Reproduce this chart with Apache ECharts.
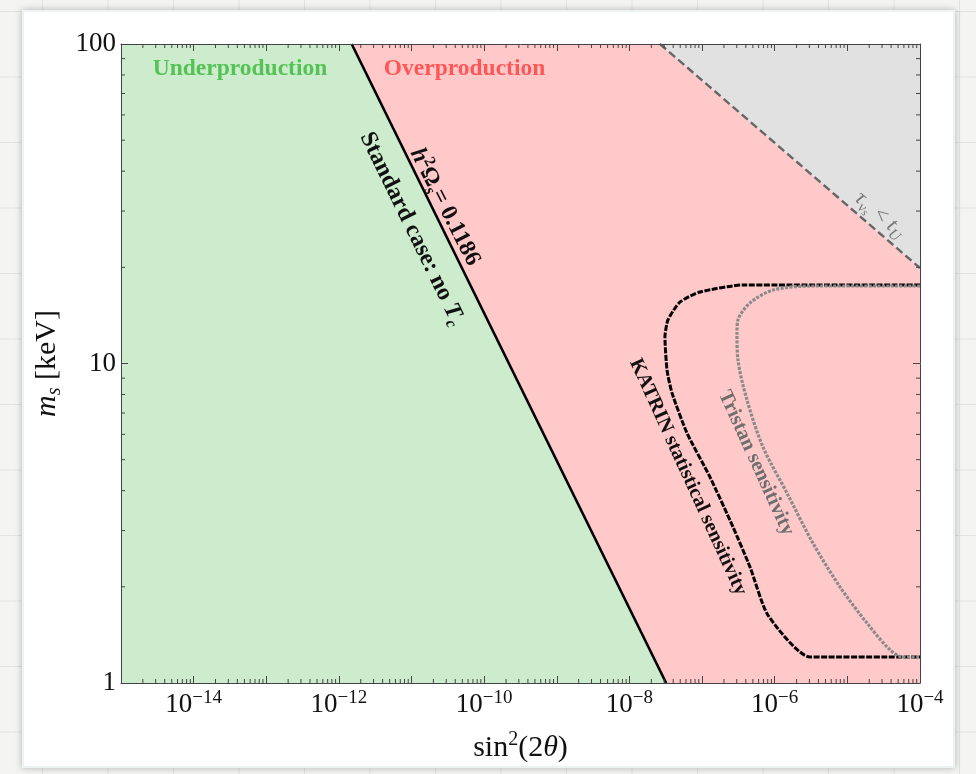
<!DOCTYPE html>
<html><head><meta charset="utf-8">
<script src="https://cdn.jsdelivr.net/npm/echarts@6/dist/echarts.min.js"></script>
<style>
html,body{margin:0;padding:0;width:976px;height:774px;overflow:hidden;}
body{background-color:#f4f4f2;background-image:linear-gradient(to right,#e2e2e0 1px,transparent 1px),linear-gradient(to bottom,#e2e2e0 1px,transparent 1px);background-size:65.5px 65.5px;background-position:42px 11px;}
#card{position:absolute;left:22px;top:10px;width:933px;height:758px;background:#fff;border:2px solid #edf2f2;box-sizing:border-box;box-shadow:0 0 7px rgba(0,0,0,0.28);}
#chart{position:absolute;left:0;top:0;width:976px;height:774px;}
</style></head><body><div id="card"></div><div id="chart"></div>
<script>
// ---- data ----
const xMin = 1e-15, xMax = 1e-4;
const yMin = 1, yMax = 100;
const xLabelExponents = [-14, -12, -10, -8, -6, -4];
const yTickLabels = ['1', '10', '100'];

const standardLine = [[1.5e-12, 100], [3.2e-8, 1]];
const lifetimeLine = [[2.63e-8, 100], [1e-4, 19.9]];

const greenRegion = [[1e-15, 1], [1e-15, 100], [1.5e-12, 100], [3.2e-8, 1]];
const pinkRegion = [[1.5e-12, 100], [2.63e-8, 100], [1e-4, 19.9], [1e-4, 1], [3.2e-8, 1]];
const grayRegion = [[2.63e-8, 100], [1e-4, 100], [1e-4, 19.9]];

const katrin = [
  [1e-4, 17.61], [3.66e-7, 17.61], [9.35e-8, 16.74], [4.97e-8, 15.58], [3.39e-8, 13.69],
  [3.08e-8, 12.1], [3.29e-8, 9.54], [3.85e-8, 8.09], [6.19e-8, 6.06], [1.285e-7, 4.41],
  [2.66e-7, 3.08], [4.56e-7, 2.31], [8.07e-7, 1.63], [3.05e-6, 1.206], [1e-4, 1.206]
];
const tristan = [
  [1e-4, 17.48], [3.36e-6, 17.48], [9.46e-7, 16.98], [4.56e-7, 15.47], [3.12e-7, 13.69],
  [3.02e-7, 12.46], [3.12e-7, 10.25], [4.15e-7, 7.69], [6.88e-7, 5.48], [1.476e-6, 3.93],
  [3.36e-6, 2.74], [7.9e-6, 2.0], [1.86e-5, 1.54], [3.87e-5, 1.27], [5.83e-5, 1.206], [1e-4, 1.206]
];

const annotations = [
  { pos: [4.35e-14, 83.5], text: 'Underproduction', rot: 0, color: '#55c255', size: 23.5, weight: 'bold' },
  { pos: [5.36e-11, 83.5], text: 'Overproduction', rot: 0, color: '#ff5757', size: 23.5, weight: 'bold' },
  { pos: [2.88e-11, 30.9], text: '{ib|h}{supb|2}{b|Ω}{subb|s}{b|= 0.1186}', rot: -63, color: '#111', size: 23.5, weight: 'bold' },
  { pos: [1.014e-11, 26.4], text: '{b|Standard case: no }{ib|T}{subb|c}', rot: -64, color: '#111', size: 24, weight: 'bold' },
  { pos: [6.4e-8, 4.41], text: 'KATRIN statistical sensitivity', rot: -65.5, color: '#111', size: 20.2, weight: 'bold' },
  { pos: [5.52e-7, 4.88], text: 'Tristan sensitivity', rot: -65.5, color: '#6e6e6e', size: 20.6, weight: 'bold' },
  { pos: [2.81e-5, 29.2], text: '{i|τ}{sub|ν}{sub2|s}{n| < }{i|t}{sub|U}', rot: -41, color: '#777', size: 22, weight: 'normal' }
];

const FONT = '"Liberation Serif", "DejaVu Serif", serif';
const FRAME = '#444';

const xMinor = [];
for (let e = -15; e < -4; e++) for (let k = 2; k <= 9; k++) xMinor.push([k * Math.pow(10, e), 1]);
const yMinor = [];
for (let e = 0; e < 2; e++) for (let k = 2; k <= 9; k++) yMinor.push([1e-15, k * Math.pow(10, e)]);

function polySeries(pts, color) {
  return {
    type: 'custom', coordinateSystem: 'cartesian2d', data: pts, silent: true, z: 1, clip: true,
    renderItem: function (params, api) {
      if (params.dataIndex !== 0) return null;
      return { type: 'polygon', shape: { points: pts.map(p => api.coord(p)) }, style: { fill: color } };
    }
  };
}
function lineSeries(pts, color, width, type, smooth) {
  return {
    type: 'line', data: pts, showSymbol: false, silent: true, z: 4, smooth: smooth || false,
    lineStyle: { color: color, width: width, type: type, cap: 'butt' }, clip: true
  };
}
function richStyles(size, color, weight) {
  const s = Math.round(size * 0.68);
  const lh = Math.round(size * 1.25);
  return {
    b: { fontSize: size, fontFamily: FONT, fontWeight: weight, fill: color, color: color, lineHeight: lh },
    n: { fontSize: size, fontFamily: FONT, fontWeight: weight, fill: color, color: color, lineHeight: lh },
    i: { fontSize: size, fontFamily: FONT, fontStyle: 'italic', fontWeight: weight, fill: color, color: color, lineHeight: lh },
    ib: { fontSize: size, fontFamily: FONT, fontStyle: 'italic', fontWeight: 'bold', fill: color, color: color, lineHeight: lh },
    supb: { fontSize: s, fontFamily: FONT, fontWeight: 'bold', verticalAlign: 'top', lineHeight: Math.round(s * 0.8), fill: color, color: color },
    subb: { fontSize: s, fontFamily: FONT, fontStyle: 'italic', fontWeight: 'bold', verticalAlign: 'bottom', lineHeight: Math.round(s * 0.9), fill: color, color: color },
    sub: { fontSize: s, fontFamily: FONT, fontStyle: 'italic', verticalAlign: 'bottom', lineHeight: Math.round(s * 0.9), fill: color, color: color },
    sub2: { fontSize: Math.round(s * 0.75), fontFamily: FONT, fontStyle: 'italic', verticalAlign: 'bottom', lineHeight: Math.round(s * 0.5), fill: color, color: color }
  };
}

const chart = echarts.init(document.getElementById('chart'), null, { renderer: 'canvas' });

const baseX = {
  type: 'log', logBase: 10, min: xMin, max: xMax, interval: 1, z: 10,
  axisLine: { show: true, lineStyle: { color: FRAME, width: 1 } },
  axisTick: { show: true, inside: true, length: 7, interval: 0, lineStyle: { color: FRAME, width: 1 } },
  splitLine: { show: false }
};
const baseY = {
  type: 'log', logBase: 10, min: yMin, max: yMax, interval: 1, z: 10,
  axisLine: { show: true, lineStyle: { color: FRAME, width: 1 } },
  axisTick: { show: true, inside: true, length: 7, interval: 0, lineStyle: { color: FRAME, width: 1 } },
  splitLine: { show: false }
};

const option = {
  animation: false,
  backgroundColor: 'transparent',
  grid: { left: 121, right: 56, top: 44, bottom: 91, containLabel: false },
  xAxis: [
    Object.assign({}, baseX, {
      position: 'bottom',
      name: '{n|sin}{sup|2}{n|(2}{i|θ}{n|)}',
      nameLocation: 'middle', nameGap: 47,
      nameTextStyle: {
        rich: {
          n: { fontSize: 30, fontFamily: FONT, color: '#111', lineHeight: 36 },
          i: { fontSize: 30, fontFamily: FONT, fontStyle: 'italic', color: '#111', lineHeight: 36 },
          sup: { fontSize: 20, fontFamily: FONT, color: '#111', verticalAlign: 'top', lineHeight: 18 }
        }
      },
      axisLabel: {
        show: true, margin: 6, interval: 0, showMinLabel: true, showMaxLabel: true, hideOverlap: false,
        formatter: function (v) {
          const e = Math.round(Math.log10(v));
          if (xLabelExponents.indexOf(e) < 0) return '';
          return '{b|10}{s|−' + (-e) + '}';
        },
        rich: {
          b: { fontSize: 27, fontFamily: FONT, color: '#111', lineHeight: 32 },
          s: { fontSize: 19, fontFamily: FONT, color: '#111', verticalAlign: 'top', lineHeight: 17 }
        }
      }
    }),
    Object.assign({}, baseX, { position: 'top', axisLabel: { show: false } })
  ],
  yAxis: [
    Object.assign({}, baseY, {
      position: 'left',
      name: '{i|m}{sub|s}{n| [keV]}',
      nameLocation: 'middle', nameGap: 55, nameRotate: 90,
      nameTextStyle: {
        rich: {
          n: { fontSize: 30, fontFamily: FONT, color: '#111', lineHeight: 34 },
          i: { fontSize: 30, fontFamily: FONT, fontStyle: 'italic', color: '#111', lineHeight: 34 },
          sub: { fontSize: 20, fontFamily: FONT, fontStyle: 'italic', color: '#111', verticalAlign: 'bottom', lineHeight: 20 }
        }
      },
      axisLabel: {
        show: true, margin: 5, interval: 0, showMinLabel: true, showMaxLabel: true,
        formatter: function (v) {
          const e = Math.round(Math.log10(v));
          return yTickLabels[e] || '';
        },
        fontSize: 27, fontFamily: FONT, color: '#111'
      }
    }),
    Object.assign({}, baseY, { position: 'right', axisLabel: { show: false } })
  ],
  series: [
    polySeries(greenRegion, '#cdeccd'),
    polySeries(pinkRegion, '#ffc9c9'),
    polySeries(grayRegion, '#e1e1e1'),
    lineSeries(standardLine, '#000', 2.6, 'solid'),
    lineSeries(lifetimeLine, '#666', 2.4, [8, 4]),
    lineSeries(katrin, '#000', 3, [6, 1.5], 0.2),
    lineSeries(tristan, '#8a8a8a', 3.2, [3, 1.4], 0.3),
    {
      type: 'custom', coordinateSystem: 'cartesian2d', data: xMinor, silent: true, z: 11, clip: false,
      renderItem: function (params, api) {
        const v = api.value(0);
        const b = api.coord([v, yMin]); const t = api.coord([v, yMax]);
        const st = { stroke: FRAME, lineWidth: 1 };
        return { type: 'group', children: [
          { type: 'line', shape: { x1: b[0], y1: b[1], x2: b[0], y2: b[1] - 4 }, style: st },
          { type: 'line', shape: { x1: t[0], y1: t[1], x2: t[0], y2: t[1] + 4 }, style: st }
        ] };
      }
    },
    {
      type: 'custom', coordinateSystem: 'cartesian2d', data: yMinor, silent: true, z: 11, clip: false,
      renderItem: function (params, api) {
        const v = api.value(1);
        const l = api.coord([xMin, v]); const r = api.coord([xMax, v]);
        const st = { stroke: FRAME, lineWidth: 1 };
        return { type: 'group', children: [
          { type: 'line', shape: { x1: l[0], y1: l[1], x2: l[0] + 4, y2: l[1] }, style: st },
          { type: 'line', shape: { x1: r[0], y1: r[1], x2: r[0] - 4, y2: r[1] }, style: st }
        ] };
      }
    },
    {
      type: 'custom', coordinateSystem: 'cartesian2d', data: annotations.map(a => a.pos), silent: true, z: 12, clip: false,
      renderItem: function (params, api) {
        const a = annotations[params.dataIndex];
        const p = api.coord(a.pos);
        const hasRich = a.text.indexOf('{') === 0;
        return {
          type: 'text', x: p[0], y: p[1], rotation: a.rot * Math.PI / 180,
          style: {
            text: a.text, fill: a.color, fontSize: a.size, fontFamily: FONT, fontWeight: a.weight,
            align: 'center', verticalAlign: 'middle',
            rich: hasRich ? richStyles(a.size, a.color, a.weight) : undefined
          }
        };
      }
    }
  ]
};
chart.setOption(option);
</script></body></html>
